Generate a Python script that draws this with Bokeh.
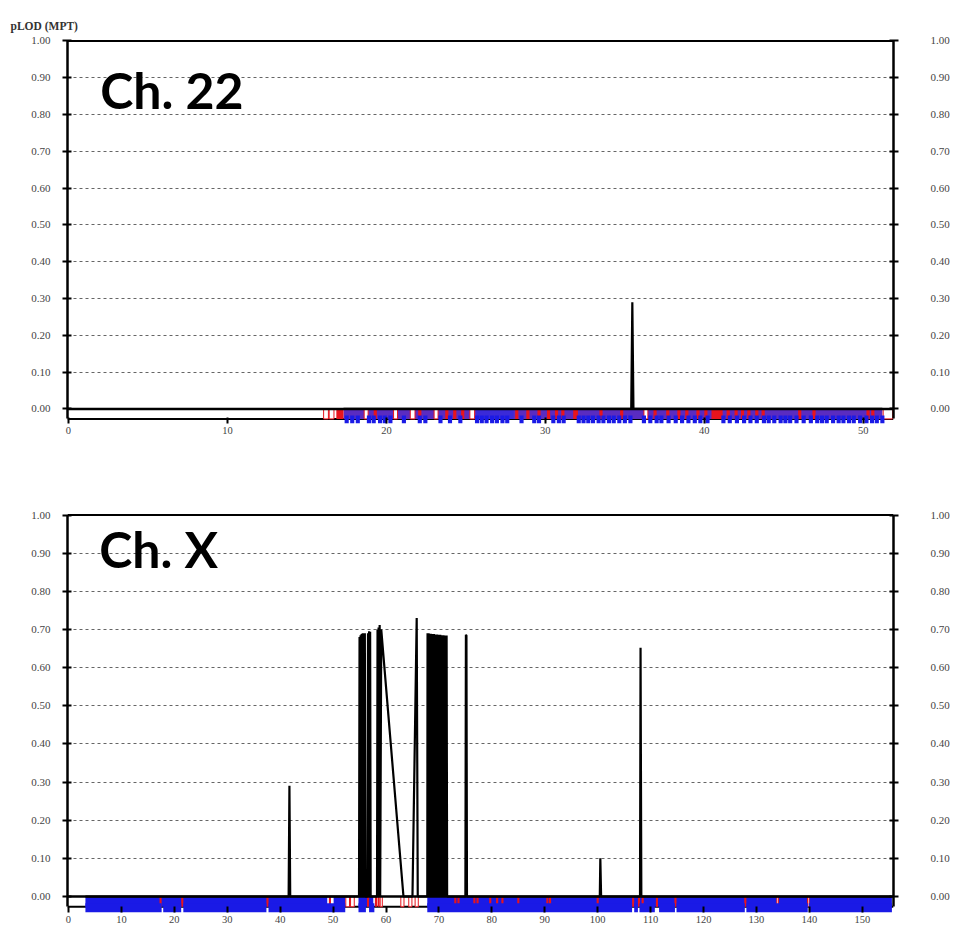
from bokeh.plotting import figure
from bokeh.layouts import column
from bokeh.models import (Range1d, LinearAxis, FixedTicker, PrintfTickFormatter,
                          Span, Label)
from bokeh.embed import file_html
from bokeh.resources import INLINE

# ---------------- data ----------------
y_ticks = [0.0, 0.1, 0.2, 0.3, 0.4, 0.5, 0.6, 0.7, 0.8, 0.9, 1.0]
grid_ticks = [0.1, 0.2, 0.3, 0.4, 0.5, 0.6, 0.7, 0.8, 0.9]
ch22_x_ticks = [0, 10, 20, 30, 40, 50]
chx_x_ticks = [0, 10, 20, 30, 40, 50, 60, 70, 80, 90, 100, 110, 120, 130, 140, 150]

# Ch. 22 LOD trace
ch22_lod_pos = [17.3, 35.40, 35.47, 35.54, 51.2]
ch22_lod_val = [0.0, 0.0, 0.29, 0.0, 0.0]

# Ch. 22 marker strip
ch22_band_left = [17.3]
ch22_band_right = [51.2]
ch22_blue_left = [25.65]
ch22_blue_right = [28.0]
ch22_red_left = [16.85, 19.2, 22.0, 23.7, 24.2, 24.7, 28.1, 28.8, 29.5, 30.1, 30.6, 31.0, 31.75,
                 33.4, 34.7, 36.8, 37.6, 38.3, 38.8, 39.5, 40.0, 40.45, 41.4, 41.9, 42.3, 42.7,
                 43.2, 43.6, 45.9, 46.8, 50.2, 50.5]
ch22_red_right = [17.3, 19.4, 22.2, 23.9, 24.4, 24.9, 28.3, 29.0, 29.7, 30.3, 30.8, 31.2, 32.05,
                  33.6, 34.9, 37.0, 37.8, 38.5, 39.0, 39.7, 40.2, 41.15, 41.6, 42.1, 42.5, 42.9,
                  43.4, 43.8, 46.1, 47.0, 50.4, 50.7]
ch22_white_left = [16.05, 16.4, 18.6, 20.45, 21.5, 23.0, 25.25, 36.2, 51.25]
ch22_white_right = [16.35, 16.7, 18.85, 20.7, 21.8, 23.25, 25.55, 36.45, 51.85]
ch22_tick_pos = [17.5, 17.85, 18.2, 18.9, 19.2, 19.6, 19.9, 20.25, 21.1, 22.1, 22.45, 23.4, 24.0,
                 24.65, 25.7, 26.0, 26.3, 26.65, 26.95, 27.3, 27.6, 28.5, 29.3, 29.6, 30.5, 30.85,
                 31.15, 32.1, 32.4, 32.7, 33.0, 33.35, 33.65, 34.0, 34.3, 34.65, 35.0, 35.35, 36.2,
                 36.6, 37.0, 37.3, 37.75, 38.2, 38.6, 39.0, 39.4, 39.75, 40.2, 41.2, 41.6, 42.05,
                 42.5, 42.9, 43.3, 43.75, 44.05, 44.4, 44.8, 45.1, 45.4, 45.8, 46.25, 46.7, 47.1,
                 47.4, 47.7, 48.1, 48.45, 48.75, 49.1, 49.4, 49.8, 50.2, 50.55, 50.85, 51.2]

# Ch. X LOD trace
chx_lod_pos = [3.2, 41.6, 41.75, 41.9, 54.9, 55.0, 55.1, 55.2, 55.3, 55.4, 55.5, 55.6, 55.7,
               55.8, 55.9, 56.0, 56.1, 56.5, 56.6, 56.7, 56.8, 56.9, 57.0, 57.1, 58.3, 58.4,
               58.5, 58.6, 58.7, 58.8, 58.9, 59.1, 63.3, 65.0, 65.8, 66.0, 67.8,
               67.85, 67.95, 68.05, 68.15, 68.25, 68.35, 68.45, 68.55, 68.65, 68.75, 68.85,
               68.95, 69.05, 69.15, 69.25, 69.35, 69.45, 69.55, 69.65, 69.75, 69.85, 69.95,
               70.05, 70.15, 70.25, 70.35, 70.45, 70.55, 70.65, 70.75, 70.85, 70.95, 71.05,
               71.15, 71.25, 71.35, 71.45, 71.55, 71.6, 75.0, 75.1, 75.2, 75.3, 100.4,
               100.5, 100.65, 108.0, 108.1, 108.25, 155.5]
chx_lod_val = [0.0, 0.0, 0.29, 0.0, 0.0, 0.68, 0.0, 0.685, 0.0, 0.688, 0.0, 0.69, 0.0,
               0.69, 0.0, 0.69, 0.0, 0.0, 0.69, 0.0, 0.695, 0.0, 0.694, 0.0, 0.0, 0.70,
               0.0, 0.705, 0.0, 0.712, 0.0, 0.70, 0.0, 0.0, 0.73, 0.0, 0.0,
               0.69, 0.0, 0.69, 0.0, 0.689, 0.0, 0.689, 0.0, 0.688, 0.0, 0.688,
               0.0, 0.688, 0.0, 0.687, 0.0, 0.687, 0.0, 0.687, 0.0, 0.686, 0.0,
               0.686, 0.0, 0.686, 0.0, 0.685, 0.0, 0.685, 0.0, 0.685, 0.0, 0.684,
               0.0, 0.684, 0.0, 0.684, 0.0, 0.0, 0.0, 0.686, 0.684, 0.0, 0.0,
               0.10, 0.0, 0.0, 0.652, 0.0, 0.0]

# Ch. X marker strip
chx_blue_left = [3.2, 50.1, 54.8, 67.8]
chx_blue_right = [48.9, 52.3, 57.6, 155.6]
chx_red_pos = [17.4, 21.5, 37.6, 49.4, 56.6, 58.1, 58.6, 73.1, 73.7, 76.7, 77.3, 79.7, 81.0,
               82.0, 85.0, 90.5, 91.0, 100.0, 106.7, 107.8, 108.5, 111.2, 114.7, 127.9]
chx_white_left = [52.4, 53.3, 58.9, 62.8, 64.3, 65.5, 133.85, 139.65]
chx_white_right = [53.1, 54.0, 59.3, 63.4, 64.9, 66.1, 134.15, 139.95]
chx_tick_left = [3.2, 17.9, 21.7, 37.8, 54.8, 56.8, 67.8, 106.9, 107.9, 111.6, 114.9, 128.1, 139.9]
chx_tick_right = [17.6, 21.3, 37.4, 52.3, 56.2, 57.8, 106.5, 107.6, 110.8, 114.6, 127.8, 139.7, 155.6]

# ---------------- styling ----------------
BLUE = "#1a1ae6"
RED = "#e8141c"
PURPLE = "#5a2cc0"
SERIF = "Liberation Serif"
LABEL_GRAY = "#444444"

CELL_TOP = 0.0
CELL_BOTTOM = -0.027
TICK_TOP = -0.018


def make_fig(height, border_top, border_bottom, x_end, y_start, x_ticks):
    p = figure(width=957, height=height, output_backend="svg", toolbar_location=None,
               x_range=Range1d(-x_end * 0.0012, x_end), y_range=Range1d(y_start, 1.004),
               min_border_left=67, min_border_right=64, min_border_top=border_top,
               min_border_bottom=border_bottom)
    p.outline_line_color = None
    p.background_fill_color = "white"
    p.border_fill_color = "white"
    p.xgrid.visible = False
    p.ygrid.ticker = FixedTicker(ticks=grid_ticks)
    p.ygrid.grid_line_color = "#666666"
    p.ygrid.grid_line_dash = "3 3"
    p.ygrid.grid_line_width = 1

    right = LinearAxis()
    p.add_layout(right, "right")
    for ax, standoff in ((p.yaxis[0], 12), (right, 32)):
        ax.ticker = FixedTicker(ticks=y_ticks)
        ax.formatter = PrintfTickFormatter(format="%.2f")
        ax.bounds = (CELL_BOTTOM, 1.0)
        ax.axis_line_color = "black"
        ax.axis_line_width = 2.5
        ax.major_tick_line_color = "black"
        ax.major_tick_line_width = 2
        ax.major_tick_in = 4
        ax.major_tick_out = 5
        ax.minor_tick_line_color = None
        ax.major_label_standoff = standoff
        ax.major_label_text_font = SERIF
        ax.major_label_text_font_size = "11px"
        ax.major_label_text_color = LABEL_GRAY

    xa = p.xaxis[0]
    xa.ticker = FixedTicker(ticks=x_ticks)
    xa.axis_line_color = None
    xa.major_tick_line_color = "black"
    xa.major_tick_line_width = 2
    xa.major_tick_in = 6
    xa.major_tick_out = 0
    xa.minor_tick_line_color = None
    xa.major_label_standoff = 3
    xa.major_label_text_font = SERIF
    xa.major_label_text_font_size = "10.5px"
    xa.major_label_text_color = LABEL_GRAY

    # frame lines
    p.add_layout(Span(location=1.0, dimension="width", line_color="black", line_width=2))
    p.add_layout(Span(location=CELL_BOTTOM, dimension="width", line_color="black",
                      line_width=2, level="underlay"))
    return p


# ---------------- Ch. 22 ----------------
p1 = make_fig(458, 39, 35, 51.9, -0.0395, ch22_x_ticks)
p1.title.text = "pLOD (MPT)"
p1.title.align = "left"
p1.title.offset = -57
p1.title.standoff = 16
p1.title.text_font = SERIF
p1.title.text_font_size = "11.5px"
p1.title.text_font_style = "bold"
p1.title.text_color = "#333333"

p1.quad(left=ch22_band_left, right=ch22_band_right, top=CELL_TOP, bottom=CELL_BOTTOM,
        fill_color=PURPLE, line_color=None)
p1.quad(left=ch22_blue_left, right=ch22_blue_right, top=CELL_TOP, bottom=CELL_BOTTOM,
        fill_color="#3a2ad8", line_color=None)
p1.quad(left=ch22_red_left, right=ch22_red_right, top=CELL_TOP, bottom=CELL_BOTTOM,
        fill_color=RED, line_color=None)
p1.quad(left=ch22_white_left, right=ch22_white_right, top=CELL_TOP, bottom=CELL_BOTTOM,
        fill_color="white", line_color=RED, line_width=1)
p1.rect(x=ch22_tick_pos, y=(TICK_TOP - 0.0395) / 2, width=0.26, height=(TICK_TOP + 0.0395),
        fill_color=BLUE, line_color=None)
p1.line(ch22_lod_pos, ch22_lod_val, line_color="black", line_width=2.2)
p1.add_layout(Span(location=0.0, dimension="width", line_color="black", line_width=2.5))
p1.add_layout(Label(x=2.0, y=0.868, text="Ch. 22", text_font="Lato", text_font_style="bold",
                    text_font_size="50px", text_baseline="middle", text_color="black"))

# ---------------- Ch. X ----------------
p2 = make_fig(467, 55, 12, 155.9, -0.042, chx_x_ticks)
p2.quad(left=chx_blue_left, right=chx_blue_right, top=CELL_TOP, bottom=CELL_BOTTOM,
        fill_color=BLUE, line_color=None)
p2.rect(x=chx_red_pos, y=(CELL_TOP + CELL_BOTTOM) / 2, width=0.4, height=CELL_TOP - CELL_BOTTOM,
        fill_color=RED, line_color=None)
p2.quad(left=chx_white_left, right=chx_white_right, top=CELL_TOP, bottom=CELL_BOTTOM,
        fill_color="white", line_color=RED, line_width=1)
p2.quad(left=chx_tick_left, right=chx_tick_right, top=TICK_TOP, bottom=-0.042,
        fill_color=BLUE, line_color=None)
p2.line(chx_lod_pos, chx_lod_val, line_color="black", line_width=2.2)
p2.add_layout(Span(location=0.0, dimension="width", line_color="black", line_width=2.5))
p2.add_layout(Label(x=5.8, y=0.912, text="Ch. X", text_font="Lato", text_font_style="bold",
                    text_font_size="50px", text_baseline="middle", text_color="black"))

layout = column(p1, p2)
open("out.html", "w").write(file_html(layout, INLINE))
